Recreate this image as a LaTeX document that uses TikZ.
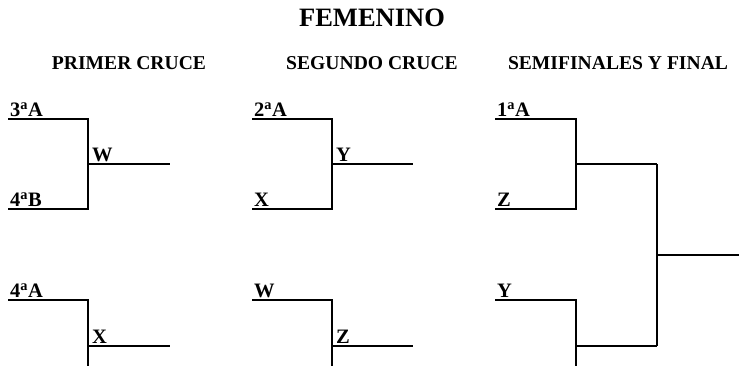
\documentclass[tikz,border=0pt]{standalone}
\usepackage{fontspec}
\setmainfont{Liberation Serif}
\usetikzlibrary{positioning}
\tikzstyle{team} = [inner sep=1pt, font=\fontsize{20.5}{24}\selectfont\bfseries]
\tikzstyle{head} = [inner sep=0pt, font=\fontsize{19.6}{23}\selectfont\bfseries]
\tikzstyle{ttl} = [inner sep=0pt, font=\fontsize{26.5}{30}\selectfont\bfseries]
\tikzstyle{bline} = [draw, line width=1.1pt]

\begin{document}
\begin{tikzpicture}[x=1pt,y=-1pt]
  \useasboundingbox (0,0) rectangle (739,365);
  \clip (0,0) rectangle (739,365);

  % titles
  \node[ttl]  (title) at (372,18) {FEMENINO};
  \node[head] (h1)    at (129,63) {PRIMER CRUCE};
  \node[head] (h2)    at (372,63) {SEGUNDO CRUCE};
  \node[head] (h3)    at (618,63) {SEMIFINALES Y FINAL};

  % primer cruce
  \coordinate (a1) at (8,119);   \coordinate (a2) at (8,209);
  \coordinate (ja) at (88,164);  \coordinate (oa) at (170,164);
  \coordinate (b1) at (8,300);   \coordinate (b2) at (8,392);
  \coordinate (jb) at (88,346);  \coordinate (ob) at (170,346);

  % segundo cruce
  \coordinate (c1) at (252,119); \coordinate (c2) at (252,209);
  \coordinate (jc) at (332,164); \coordinate (oc) at (413,164);
  \coordinate (d1) at (252,300); \coordinate (d2) at (252,392);
  \coordinate (jd) at (332,346); \coordinate (od) at (413,346);

  % semifinales y final
  \coordinate (e1) at (495,119); \coordinate (e2) at (495,209);
  \coordinate (je) at (576,164); \coordinate (oe) at (657,164);
  \coordinate (f1) at (495,300); \coordinate (f2) at (495,392);
  \coordinate (jf) at (576,346); \coordinate (of) at (657,346);
  \coordinate (jg) at (657,255); \coordinate (og) at (739,255);

  \path[bline] (a1) -| (ja) |- (a2)  (ja) -- (oa)
               (b1) -| (jb) |- (b2)  (jb) -- (ob)
               (c1) -| (jc) |- (c2)  (jc) -- (oc)
               (d1) -| (jd) |- (d2)  (jd) -- (od)
               (e1) -| (je) |- (e2)  (je) -- (oe)
               (f1) -| (jf) |- (f2)  (jf) -- (of)
               (oe) -- (of)          (jg) -- (og);

  \node[team, above right=1pt and 1pt of a1] (ta1) {3\textsuperscript{a}A};
  \node[team, above right=1pt and 1pt of a2] (ta2) {4\textsuperscript{a}B};
  \node[team, above right=1pt and 3pt of ja] (twa) {W};
  \node[team, above right=1pt and 1pt of b1] (tb1) {4\textsuperscript{a}A};
  \node[team, above right=1pt and 3pt of jb] (txb) {X};

  \node[team, above right=1pt and 1pt of c1] (tc1) {2\textsuperscript{a}A};
  \node[team, above right=1pt and 1pt of c2] (tc2) {X};
  \node[team, above right=1pt and 3pt of jc] (tyc) {Y};
  \node[team, above right=1pt and 1pt of d1] (td1) {W};
  \node[team, above right=1pt and 3pt of jd] (tzd) {Z};

  \node[team, above right=1pt and 1pt of e1] (te1) {1\textsuperscript{a}A};
  \node[team, above right=1pt and 1pt of e2] (te2) {Z};
  \node[team, above right=1pt and 1pt of f1] (tf1) {Y};
\end{tikzpicture}
\end{document}
